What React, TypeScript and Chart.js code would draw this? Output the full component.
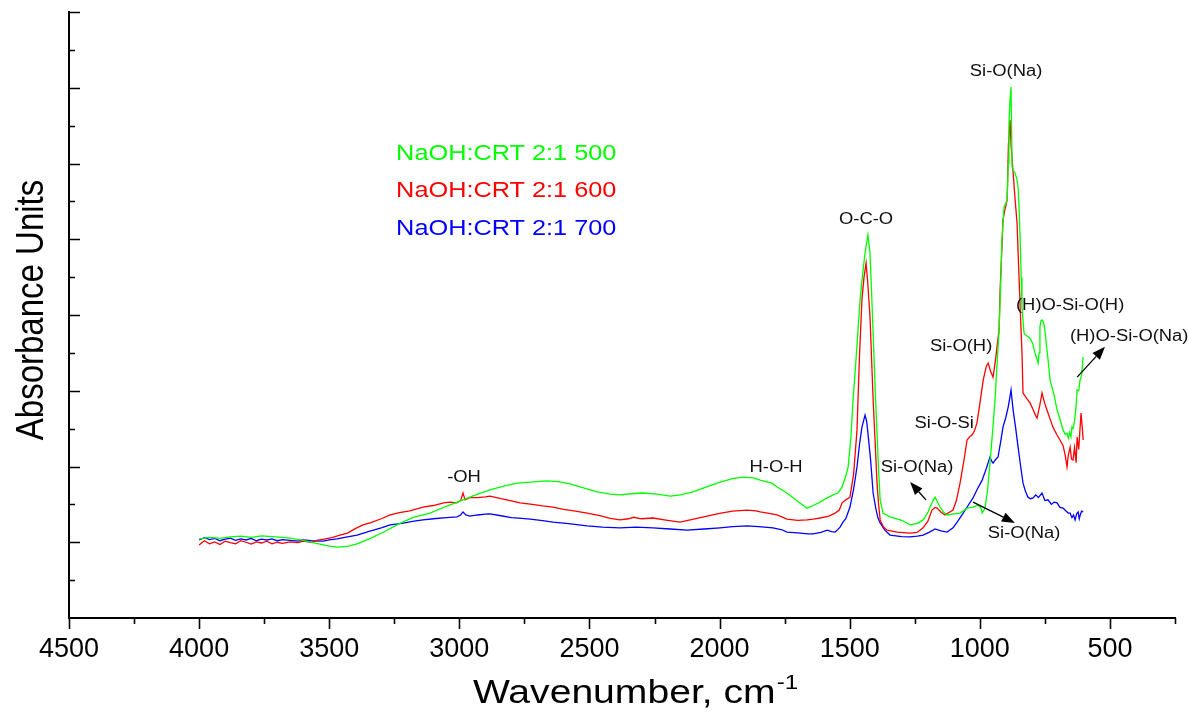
import React, { useEffect, useRef } from 'react';
import { Chart, registerables } from 'chart.js';

Chart.register(...registerables);

// ---------- data (wavenumber cm-1, absorbance units) ----------
const wn500 = [4000, 3960, 3920, 3880, 3840, 3800, 3760, 3720, 3680, 3651, 3600, 3550, 3500, 3470, 3430, 3393, 3340, 3290, 3240, 3180, 3113, 3050, 2986, 2930, 2882, 2830, 2778, 2728, 2663, 2620, 2575, 2520, 2471, 2420, 2383, 2340, 2294, 2240, 2190, 2150, 2102, 2050, 1998, 1950, 1910, 1870, 1844, 1800, 1779, 1741, 1700, 1664, 1640, 1614, 1590, 1564, 1545, 1530, 1515, 1506, 1495, 1487, 1474, 1460, 1450, 1441, 1430, 1422, 1416, 1410, 1402, 1395, 1389, 1383, 1372, 1345, 1300, 1268, 1240, 1218, 1200, 1191, 1180, 1172, 1162, 1153, 1140, 1126, 1100, 1076, 1049, 1026, 1007, 995, 991, 980, 970, 961, 950, 941, 933, 926, 920, 915, 907, 900, 895, 891, 888, 884, 880, 876, 870, 865, 858, 853, 849, 845, 841, 838, 830, 820, 807, 797, 788, 781, 776, 772, 769, 765, 761, 755, 750, 742, 735, 730, 715, 703, 690, 680, 672, 665, 660, 655, 650, 646, 642, 636, 630, 626, 620, 615, 609, 603];
const abs500 = [0.209, 0.213, 0.210, 0.214, 0.216, 0.213, 0.217, 0.215, 0.213, 0.211, 0.205, 0.197, 0.190, 0.187, 0.189, 0.196, 0.211, 0.227, 0.246, 0.265, 0.277, 0.295, 0.312, 0.327, 0.338, 0.348, 0.356, 0.359, 0.362, 0.360, 0.354, 0.343, 0.333, 0.327, 0.325, 0.328, 0.330, 0.327, 0.322, 0.325, 0.333, 0.346, 0.359, 0.368, 0.372, 0.370, 0.364, 0.356, 0.346, 0.330, 0.308, 0.290, 0.297, 0.306, 0.316, 0.325, 0.330, 0.345, 0.375, 0.399, 0.480, 0.576, 0.700, 0.840, 0.910, 0.964, 1.011, 0.964, 0.860, 0.752, 0.600, 0.488, 0.390, 0.312, 0.277, 0.267, 0.258, 0.246, 0.250, 0.259, 0.278, 0.293, 0.310, 0.319, 0.305, 0.293, 0.280, 0.272, 0.275, 0.277, 0.290, 0.293, 0.298, 0.290, 0.277, 0.290, 0.340, 0.409, 0.500, 0.583, 0.680, 0.760, 0.880, 0.998, 1.085, 1.095, 1.104, 1.200, 1.307, 1.370, 1.402, 1.191, 1.180, 1.175, 1.160, 1.138, 1.080, 0.998, 0.900, 0.821, 0.752, 0.745, 0.739, 0.725, 0.700, 0.685, 0.673, 0.700, 0.768, 0.785, 0.787, 0.780, 0.760, 0.708, 0.665, 0.628, 0.590, 0.549, 0.520, 0.496, 0.485, 0.488, 0.475, 0.490, 0.478, 0.504, 0.500, 0.520, 0.560, 0.602, 0.600, 0.628, 0.640, 0.689];

const wn600 = [4000, 3980, 3960, 3940, 3920, 3900, 3880, 3860, 3840, 3820, 3800, 3780, 3760, 3740, 3720, 3700, 3680, 3650, 3620, 3600, 3570, 3547, 3520, 3490, 3459, 3430, 3400, 3370, 3340, 3300, 3266, 3230, 3190, 3140, 3100, 3060, 3036, 3010, 2995, 2986, 2978, 2960, 2930, 2900, 2882, 2840, 2800, 2767, 2720, 2680, 2640, 2600, 2560, 2509, 2460, 2420, 2383, 2350, 2330, 2300, 2256, 2200, 2152, 2100, 2048, 2000, 1950, 1894, 1860, 1844, 1810, 1779, 1741, 1700, 1664, 1640, 1614, 1580, 1556, 1540, 1529, 1515, 1499, 1485, 1472, 1462, 1453, 1445, 1437, 1430, 1422, 1410, 1402, 1395, 1389, 1383, 1370, 1356, 1318, 1268, 1241, 1218, 1200, 1184, 1172, 1164, 1150, 1134, 1120, 1103, 1090, 1076, 1060, 1049, 1037, 1030, 1020, 1011, 999, 987, 975, 968, 958, 949, 940, 934, 926, 922, 915, 911, 903, 895, 890, 884, 880, 872, 865, 857, 851, 845, 838, 834, 820, 807, 795, 786, 780, 770, 761, 752, 742, 730, 719, 705, 692, 680, 672, 665, 660, 653, 648, 642, 636, 630, 626, 620, 615, 611, 606, 603];
const abs600 = [0.193, 0.204, 0.196, 0.201, 0.194, 0.203, 0.199, 0.196, 0.204, 0.200, 0.195, 0.201, 0.198, 0.203, 0.196, 0.200, 0.197, 0.201, 0.199, 0.203, 0.200, 0.205, 0.208, 0.212, 0.219, 0.224, 0.236, 0.246, 0.252, 0.262, 0.272, 0.278, 0.283, 0.293, 0.297, 0.304, 0.306, 0.304, 0.310, 0.330, 0.312, 0.318, 0.318, 0.320, 0.322, 0.315, 0.309, 0.304, 0.300, 0.296, 0.293, 0.287, 0.283, 0.277, 0.270, 0.263, 0.259, 0.262, 0.266, 0.262, 0.264, 0.258, 0.253, 0.261, 0.269, 0.276, 0.282, 0.285, 0.283, 0.280, 0.276, 0.272, 0.261, 0.258, 0.259, 0.261, 0.264, 0.269, 0.277, 0.285, 0.304, 0.312, 0.319, 0.380, 0.496, 0.700, 0.840, 0.900, 0.937, 0.880, 0.795, 0.576, 0.460, 0.356, 0.300, 0.259, 0.240, 0.232, 0.227, 0.224, 0.226, 0.238, 0.255, 0.285, 0.292, 0.290, 0.280, 0.272, 0.278, 0.285, 0.310, 0.356, 0.420, 0.470, 0.480, 0.483, 0.495, 0.515, 0.570, 0.628, 0.665, 0.673, 0.650, 0.636, 0.680, 0.716, 0.760, 0.866, 0.980, 1.051, 1.080, 1.104, 1.250, 1.315, 1.250, 1.175, 1.110, 1.043, 0.930, 0.821, 0.700, 0.594, 0.580, 0.568, 0.550, 0.535, 0.528, 0.560, 0.594, 0.570, 0.549, 0.525, 0.504, 0.485, 0.470, 0.455, 0.430, 0.399, 0.430, 0.451, 0.420, 0.417, 0.450, 0.410, 0.478, 0.445, 0.500, 0.541, 0.500, 0.470];

const wn700 = [4000, 3980, 3960, 3940, 3920, 3900, 3880, 3860, 3840, 3820, 3800, 3780, 3760, 3740, 3720, 3700, 3680, 3650, 3620, 3600, 3570, 3524, 3500, 3470, 3430, 3393, 3350, 3300, 3266, 3220, 3180, 3140, 3100, 3050, 3009, 2995, 2986, 2975, 2960, 2930, 2900, 2882, 2840, 2800, 2760, 2728, 2680, 2640, 2580, 2509, 2450, 2383, 2320, 2256, 2190, 2125, 2060, 1998, 1950, 1894, 1850, 1795, 1760, 1741, 1700, 1660, 1641, 1610, 1587, 1570, 1556, 1545, 1537, 1526, 1515, 1499, 1485, 1472, 1462, 1453, 1441, 1435, 1430, 1420, 1410, 1400, 1392, 1383, 1365, 1345, 1300, 1268, 1240, 1218, 1195, 1172, 1150, 1126, 1103, 1085, 1064, 1045, 1026, 1010, 991, 975, 961, 955, 949, 940, 930, 920, 911, 900, 891, 884, 880, 876, 872, 862, 853, 843, 834, 825, 815, 805, 795, 785, 775, 761, 750, 738, 725, 715, 703, 692, 680, 670, 660, 653, 646, 640, 634, 628, 622, 618, 615, 609, 603];
const abs700 = [0.206, 0.212, 0.207, 0.210, 0.204, 0.208, 0.211, 0.205, 0.209, 0.206, 0.210, 0.204, 0.208, 0.206, 0.209, 0.204, 0.207, 0.205, 0.203, 0.206, 0.204, 0.203, 0.206, 0.209, 0.214, 0.219, 0.228, 0.238, 0.246, 0.250, 0.255, 0.259, 0.262, 0.265, 0.267, 0.272, 0.280, 0.272, 0.269, 0.272, 0.274, 0.275, 0.270, 0.265, 0.263, 0.261, 0.257, 0.253, 0.249, 0.243, 0.240, 0.238, 0.240, 0.238, 0.235, 0.232, 0.235, 0.238, 0.241, 0.243, 0.241, 0.238, 0.233, 0.227, 0.225, 0.222, 0.222, 0.226, 0.232, 0.228, 0.227, 0.234, 0.240, 0.253, 0.262, 0.293, 0.340, 0.399, 0.460, 0.504, 0.536, 0.520, 0.488, 0.420, 0.330, 0.290, 0.265, 0.251, 0.232, 0.219, 0.215, 0.214, 0.216, 0.219, 0.226, 0.235, 0.230, 0.227, 0.238, 0.255, 0.277, 0.297, 0.317, 0.340, 0.364, 0.395, 0.425, 0.415, 0.409, 0.418, 0.425, 0.465, 0.504, 0.530, 0.557, 0.585, 0.602, 0.575, 0.549, 0.500, 0.451, 0.400, 0.356, 0.335, 0.319, 0.315, 0.317, 0.325, 0.318, 0.330, 0.310, 0.312, 0.300, 0.306, 0.304, 0.292, 0.290, 0.283, 0.277, 0.277, 0.265, 0.272, 0.259, 0.275, 0.280, 0.262, 0.270, 0.282, 0.280];

const seriesNames = ['NaOH:CRT 2:1 500', 'NaOH:CRT 2:1 600', 'NaOH:CRT 2:1 700'];
const seriesColors = ['#00ff00', '#ff0000', '#0000ff'];
const xTickValues = [4500, 4000, 3500, 3000, 2500, 2000, 1500, 1000, 500];
const xTitle = 'Wavenumber, cm';
const xTitleSup = '-1';
const yTitle = 'Absorbance Units';

// peak annotations (anchor in data coordinates)
const peakLabels = [
  { text: '-OH', x: 2982, y: 0.372 },
  { text: 'H-O-H', x: 1783, y: 0.396 },
  { text: 'O-C-O', x: 1437, y: 1.053 },
  { text: 'Si-O(Na)', x: 899, y: 1.442 },
  { text: '(H)O-Si-O(H)', x: 653, y: 0.826 },
  { text: '(H)O-Si-O(Na)', x: 426, y: 0.742 },
  { text: 'Si-O(H)', x: 1072, y: 0.716 },
  { text: 'Si-O-Si', x: 1137, y: 0.512 },
  { text: 'Si-O(Na)', x: 1241, y: 0.396 },
  { text: 'Si-O(Na)', x: 830, y: 0.224 },
];
const arrows = [
  { x1: 1207, y1: 0.312, x2: 1268, y2: 0.359 },
  { x1: 1026, y1: 0.306, x2: 865, y2: 0.251 },
  { x1: 626, y1: 0.636, x2: 519, y2: 0.716 },
];
const legendAnchor = { x: 3243, y: [1.225, 1.127, 1.027] };

const FONT = "'Liberation Sans', Arial, Helvetica, sans-serif";
const SX = 1.15;

function stretchText(ctx: CanvasRenderingContext2D, text: string, x: number, y: number, size: number, color: string, align: CanvasTextAlign, baseline: CanvasTextBaseline = 'middle') {
  ctx.save();
  ctx.font = `${size}px ${FONT}`;
  ctx.fillStyle = color;
  ctx.textAlign = align;
  ctx.textBaseline = baseline;
  ctx.translate(x, y);
  ctx.scale(SX, 1);
  ctx.fillText(text, 0, 0);
  ctx.restore();
}

const overlayPlugin = {
  id: 'overlay',
  afterDraw(chart: any) {
    const { ctx, chartArea, scales } = chart;
    const xs = scales.x;
    const ys = scales.y;
    ctx.save();
    // tick marks
    ctx.strokeStyle = '#000';
    ctx.lineWidth = 1.6;
    ctx.beginPath();
    for (let i = 1; i <= 16; i++) {
      const py = Math.round(ys.getPixelForValue(i / 10)) + 0.5;
      const len = i % 2 === 0 ? 11 : 6;
      ctx.moveTo(chartArea.left, py);
      ctx.lineTo(chartArea.left + len, py);
    }
    for (let w = 4500; w >= 250; w -= 250) {
      const px = Math.round(xs.getPixelForValue(w)) + 0.5;
      const len = w % 500 === 0 ? 11 : 6;
      ctx.moveTo(px, chartArea.bottom);
      ctx.lineTo(px, chartArea.bottom + len);
    }
    ctx.stroke();

    // axis titles
    ctx.save();
    ctx.font = `34px ${FONT}`;
    const mainW = ctx.measureText(xTitle).width * SX;
    ctx.font = `21px ${FONT}`;
    const supW = ctx.measureText(xTitleSup).width * SX;
    ctx.restore();
    const startX = 635 - (mainW + supW) / 2;
    stretchText(ctx, xTitle, startX, 703, 34, '#000', 'left', 'alphabetic');
    stretchText(ctx, xTitleSup, startX + mainW + 1, 689, 21, '#000', 'left', 'alphabetic');

    ctx.save();
    ctx.translate(33, 310);
    ctx.rotate(-Math.PI / 2);
    ctx.font = `33px ${FONT}`;
    ctx.fillStyle = '#000';
    ctx.textAlign = 'center';
    ctx.textBaseline = 'middle';
    ctx.scale(1, SX);
    ctx.fillText(yTitle, 0, 0);
    ctx.restore();

    // legend
    seriesNames.forEach((name, i) => {
      stretchText(ctx, name, xs.getPixelForValue(legendAnchor.x), ys.getPixelForValue(legendAnchor.y[i]), 22, seriesColors[i], 'left');
    });

    // peak labels
    peakLabels.forEach((p) => {
      stretchText(ctx, p.text, xs.getPixelForValue(p.x), ys.getPixelForValue(p.y), 16, '#111', 'center');
    });

    // arrows
    ctx.strokeStyle = '#000';
    ctx.fillStyle = '#000';
    ctx.lineWidth = 1.3;
    arrows.forEach((a) => {
      const x1 = xs.getPixelForValue(a.x1), y1 = ys.getPixelForValue(a.y1);
      const x2 = xs.getPixelForValue(a.x2), y2 = ys.getPixelForValue(a.y2);
      const ang = Math.atan2(y2 - y1, x2 - x1);
      const hl = 13, hw = 5;
      const bx = x2 - hl * Math.cos(ang), by = y2 - hl * Math.sin(ang);
      ctx.beginPath();
      ctx.moveTo(x1, y1);
      ctx.lineTo(bx, by);
      ctx.stroke();
      ctx.beginPath();
      ctx.moveTo(x2, y2);
      ctx.lineTo(bx + hw * Math.sin(ang), by - hw * Math.cos(ang));
      ctx.lineTo(bx - hw * Math.sin(ang), by + hw * Math.cos(ang));
      ctx.closePath();
      ctx.fill();
    });
    ctx.restore();
  },
};

function toPoints(wn: number[], ab: number[]) {
  return wn.map((w, i) => ({ x: w, y: ab[i] }));
}

export default function App() {
  const ref = useRef<HTMLCanvasElement>(null);
  useEffect(() => {
    const canvas = ref.current;
    if (!canvas) return;
    const sets = [
      toPoints(wn500, abs500),
      toPoints(wn600, abs600),
      toPoints(wn700, abs700),
    ];
    const chart = new Chart(canvas, {
      type: 'line',
      data: {
        datasets: sets.map((d, i) => ({
          label: seriesNames[i],
          data: d,
          borderColor: seriesColors[i],
          backgroundColor: seriesColors[i],
          borderWidth: 1.3,
          pointRadius: 0,
          tension: 0,
          fill: false,
        })),
      },
      options: {
        animation: false,
        responsive: true,
        maintainAspectRatio: false,
        devicePixelRatio: 1,
        layout: { padding: { top: 12, right: 14, left: 0, bottom: 0 } },
        plugins: { legend: { display: false }, tooltip: { enabled: false }, title: { display: false } },
        scales: {
          x: {
            type: 'linear',
            reverse: true,
            min: 250,
            max: 4500,
            afterBuildTicks: (s: any) => {
              s.ticks = xTickValues.map((v) => ({ value: v }));
            },
            afterFit: (s: any) => {
              s.height = 95;
              s.paddingLeft = 0;
              s.paddingRight = 0;
            },
            grid: { display: false, drawTicks: false },
            border: { display: true, color: '#000', width: 2 },
            ticks: {
              font: { size: 27, family: FONT },
              color: '#000',
              padding: 15,
              maxRotation: 0,
              autoSkip: false,
              callback: (v: any) => String(v),
            },
          },
          y: {
            type: 'linear',
            min: 0,
            max: 1.6,
            afterFit: (s: any) => {
              s.width = 69;
            },
            grid: { display: false, drawTicks: false },
            border: { display: true, color: '#000', width: 2 },
            ticks: { display: false },
          },
        },
      },
      plugins: [overlayPlugin],
    });
    return () => chart.destroy();
  }, []);
  return (
    <div style={{ position: 'fixed', left: 0, top: 0, width: '1189px', height: '713px', background: '#fff' }}>
      <canvas ref={ref} />
    </div>
  );
}
